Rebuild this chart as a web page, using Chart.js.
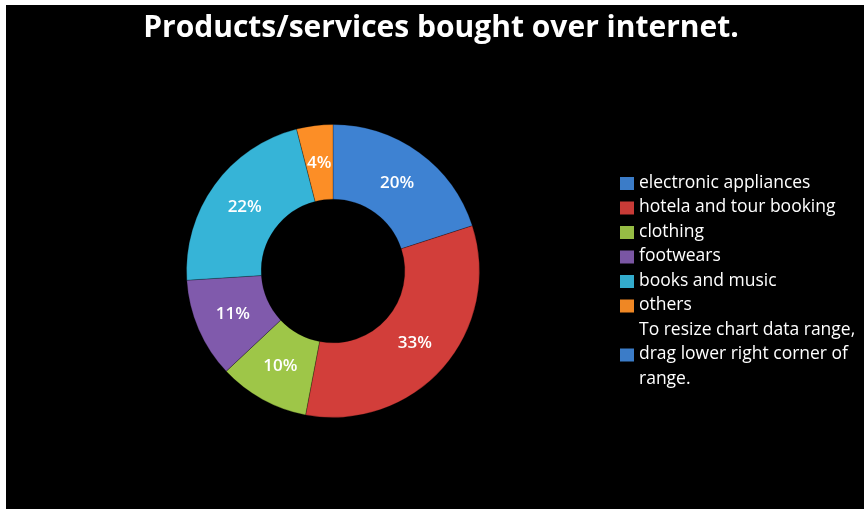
<!DOCTYPE html>
<html>
<head>
<meta charset="utf-8">
<script src="https://cdn.jsdelivr.net/npm/chart.js@4.4.1/dist/chart.umd.min.js"></script>
<style>
    html, body { margin: 0; padding: 0; background: #fff; }
    #wrap {
        width: 858px;
        height: 504px;
        border-top: 5px solid #fff;
        border-left: 6px solid #fff;
        background: #000;
    }
    canvas { display: block; }
</style>
</head>
<body>
<div id="wrap"><canvas id="myChart" width="858" height="504"></canvas></div>
<script>

const chartTitle = 'Products/services bought over internet.';
const categories = ['electronic appliances', 'hotela and tour booking', 'clothing', 'footwears', 'books and music', 'others'];
const shares = [20, 33, 10, 11, 22, 4];
const noteLines = ['To resize chart data range,', 'drag lower right corner of', 'range.'];

// base colour and a slightly darker shade for the outer rim of each slice
const sliceColors = [
    [62, 130, 210],
    [210, 62, 58],
    [158, 198, 72],
    [128, 90, 172],
    [54, 180, 215],
    [252, 142, 38],
];
const rgb = (c, k) => 'rgb(' + c.map(v => Math.round(v * k)).join(',') + ')';

function shaded(context) {
    const base = sliceColors[context.dataIndex];
    const arc = context.element;
    if (!arc || !arc.outerRadius) return rgb(base, 1);
    const g = context.chart.ctx.createRadialGradient(arc.x, arc.y, arc.innerRadius, arc.x, arc.y, arc.outerRadius);
    g.addColorStop(0, rgb(base, 1.02));
    g.addColorStop(0.6, rgb(base, 0.98));
    g.addColorStop(1, rgb(base, 0.88));
    return g;
}

// title, percent labels and the side legend are painted by hand
const extras = {
    id: 'extras',
    afterDatasetsDraw(chart) {
        const c = chart.ctx;
        c.save();

        c.fillStyle = '#fff';
        c.textAlign = 'center';
        c.textBaseline = 'middle';
        c.font = 'bold 30px "Open Sans"';
        c.fillText(chartTitle, 435, 23);

        c.font = '600 17px "Open Sans"';
        chart.getDatasetMeta(0).data.forEach((arc, i) => {
            const p = arc.tooltipPosition();
            c.fillText(shares[i] + '%', p.x, p.y);
        });

        c.textAlign = 'left';
        c.font = '17.5px "Open Sans"';
        let y = 178;
        const step = 24.5;
        categories.forEach((name, i) => {
            c.fillStyle = rgb(sliceColors[i], 0.95);
            c.fillRect(614, y - 6, 14, 13);
            c.fillStyle = '#fff';
            c.fillText(name, 633, y);
            y += step;
        });
        noteLines.forEach((line, i) => {
            if (i === 1) {
                c.fillStyle = rgb(sliceColors[0], 0.95);
                c.fillRect(614, y - 6, 14, 13);
            }
            c.fillStyle = '#fff';
            c.fillText(line, 633, y);
            y += step;
        });

        c.restore();
    }
};

const ctx = document.getElementById('myChart').getContext('2d');
const myChart = new Chart(ctx, {
    type: 'doughnut',
    data: {
        labels: categories,
        datasets: [{
            data: shares,
            backgroundColor: shaded,
            borderColor: 'rgba(0,0,0,0.25)',
            borderWidth: 1,
        }],
    },
    options: {
        responsive: false,
        animation: false,
        cutout: '49%',
        layout: {
            padding: { left: 180, right: 384, top: 119, bottom: 91 }
        },
        plugins: {
            legend: { display: false },
            tooltip: { enabled: false },
            title: { display: false },
        }
    },
    plugins: [extras],
});

</script>
</body>
</html>
